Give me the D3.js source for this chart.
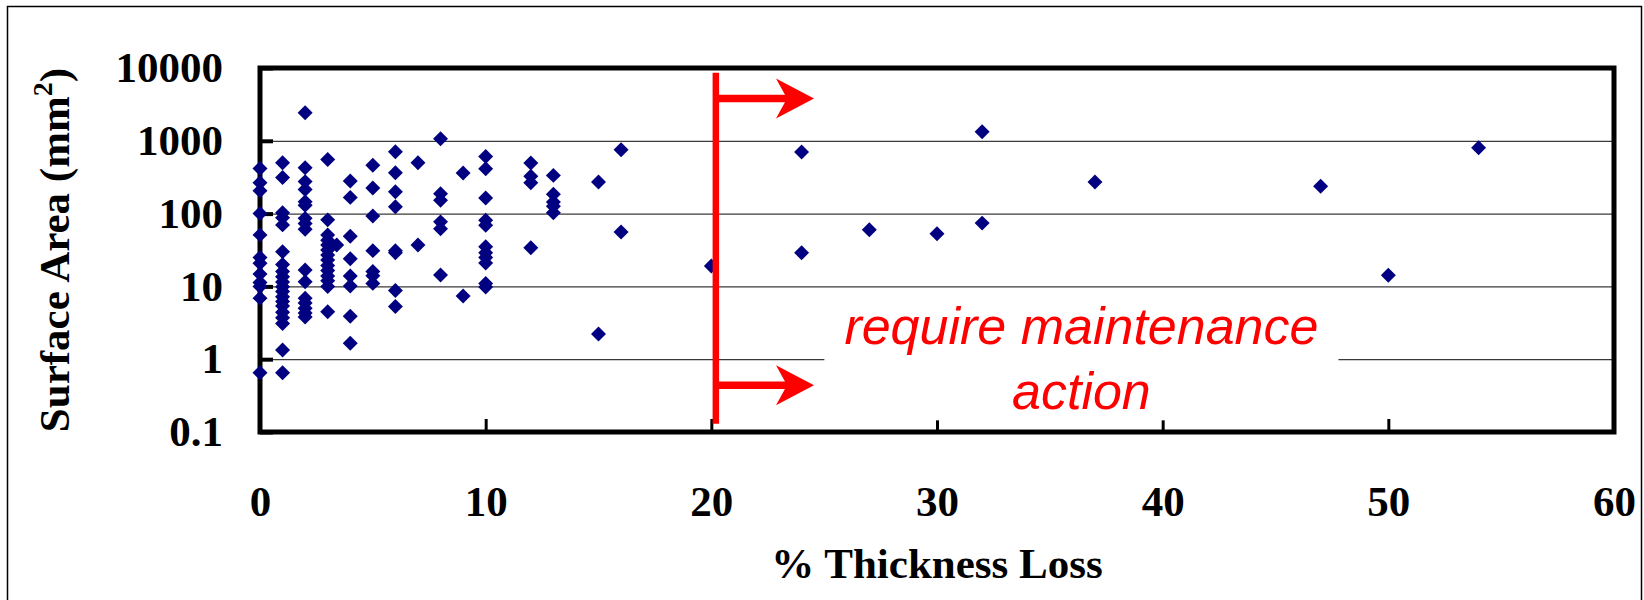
<!DOCTYPE html>
<html>
<head>
<meta charset="utf-8">
<script src="https://cdn.jsdelivr.net/npm/d3@7"></script>
<style>
  body { margin: 0; background: #fff; }
  svg { display: block; }
</style>
</head>
<body>
<svg id="chart" width="1644" height="600"></svg>
<script>
// % thickness loss of each defect
var lossPct = [
    0, 0, 0, 0, 0, 0, 0, 0, 0, 0, 0, 0,
    1, 1, 1, 1, 1, 1, 1, 1, 1, 1, 1, 1, 1, 1, 1, 1, 1, 1, 1, 1,
    2, 2, 2, 2, 2, 2, 2, 2, 2, 2, 2, 2, 2, 2, 2, 2,
    3, 3, 3, 3, 3, 3, 3, 3, 3, 3, 3, 3, 3, 3, 3.4,
    4, 4, 4, 4, 4, 4, 4, 4,
    5, 5, 5, 5, 5, 5, 5,
    6, 6, 6, 6, 6, 6, 6, 6,
    7, 7,
    8, 8, 8, 8, 8, 8,
    9, 9,
    10, 10, 10, 10, 10, 10, 10, 10, 10, 10, 10,
    12, 12, 12, 12,
    13, 13, 13, 13, 13,
    15, 15,
    16, 16,
    20, 24, 24, 27, 30, 32, 32, 37, 47, 50, 54
];
// surface area of each defect (mm2)
var areaMm2 = [
    417, 265, 206, 100, 51, 25, 20.8, 14.8, 11.3, 10, 6.9, 0.65,
    500, 314, 103, 88, 70, 30, 20, 16, 13.6, 11.5, 9.9, 8.5, 7.2, 6.2, 5.4, 4.4, 3.7, 3.1, 1.34, 0.65,
    2420, 426, 275, 215, 146, 130, 86, 73, 61, 16.8, 11.6, 6.9, 5.9, 5.0, 4.3, 3.8,
    555, 82, 51, 43, 37, 31.6, 27, 23, 19.3, 16.5, 13.9, 12, 10, 4.5, 37,
    280, 167, 49, 24, 13.9, 10.1, 3.9, 1.66,
    460, 225, 93, 31, 16, 14, 11,
    706, 364, 200, 124, 31, 29, 8.8, 5.3,
    500, 37,
    1065, 188, 152, 77, 62, 14.3,
    360, 7.4,
    610, 413, 164, 81, 69, 35, 29, 25, 21, 11, 9.8,
    494, 325, 266, 34,
    335, 184, 144, 126, 103,
    272, 2.22,
    753, 56,
    19, 700, 29, 60, 53, 1327, 74, 272, 237, 14.2, 802
];

var xTicks = [0, 10, 20, 30, 40, 50, 60];
var yTicks = [0.1, 1, 10, 100, 1000, 10000];
var yGrid = [1, 10, 100, 1000];
var xTitle = "% Thickness Loss";
var yTitle = "Surface Area (mm";
var noteLines = ["require maintenance", "action"];

// threshold line and arrows (data units)
var limitPct = 20.2;
var limitTop = 8600, limitBottom = 0.13;
var arrowTipPct = 24.55;
var arrowAreas = [3800, 0.44];

var svg = d3.select('#chart');
var margin = {top: 68, left: 260},
    width = 1354,
    height = 364;

// outer frame of the figure
svg.append("rect")
    .attr("x", 7.5).attr("y", 6.5)
    .attr("width", 1634).attr("height", 640)
    .attr("fill", "none").attr("stroke", "#000").attr("stroke-width", 1.5);

var g = svg.append("g").attr("transform", "translate(" + margin.left + "," + margin.top + ")");

var x = d3.scaleLinear().domain([0, 60]).range([0, width]);
var y = d3.scaleLog().domain([0.1, 10000]).range([height, 0]);

var serif = "'Liberation Serif', 'Times New Roman', serif";

//Grid lines
g.append("g")
    .call(d3.axisLeft(y).tickValues(yGrid).tickSize(-width).tickFormat(""))
    .call(function (s) { s.select(".domain").remove(); })
    .selectAll("line")
    .attr("stroke", "#3a3a3a")
    .attr("stroke-width", 1.2);

//Y Axis
var yAxis = g.append("g")
    .call(d3.axisLeft(y).tickValues(yTicks).tickFormat(function (d) { return String(d); })
        .tickSize(-13).tickSizeOuter(0).tickPadding(37));
yAxis.select(".domain").remove();
yAxis.selectAll("line").attr("stroke", "#000").attr("stroke-width", 4);
yAxis.selectAll("text")
    .attr("font-family", serif).attr("font-weight", "bold").attr("font-size", 43)
    .attr("fill", "#000").attr("dy", "0.32em");

//X Axis
var xAxis = g.append("g")
    .attr("transform", "translate(0," + height + ")")
    .call(d3.axisBottom(x).tickValues(xTicks).tickFormat(d3.format("d"))
        .tickSize(-13).tickSizeOuter(0).tickPadding(53));
xAxis.select(".domain").remove();
xAxis.selectAll("line").attr("stroke", "#000").attr("stroke-width", 3);
xAxis.selectAll("text")
    .attr("font-family", serif).attr("font-weight", "bold").attr("font-size", 43)
    .attr("fill", "#000");

//Plot frame
g.append("rect")
    .attr("width", width).attr("height", height)
    .attr("fill", "none").attr("stroke", "#000").attr("stroke-width", 5);

//Points
var diamond = d3.symbol().type(d3.symbolSquare).size(112);
g.append("g")
    .selectAll("path")
    .data(d3.range(lossPct.length))
    .enter().append("path")
    .attr("d", diamond)
    .attr("transform", function (i) {
        return "translate(" + x(lossPct[i]) + "," + y(areaMm2[i]) + ") rotate(45)";
    })
    .attr("fill", "#000080");

//Annotation text on white background
var note = g.append("g");
var noteBg = note.append("rect").attr("fill", "#fff");
var noteText = note.append("text")
    .attr("font-family", "'Liberation Sans', Arial, sans-serif")
    .attr("font-style", "italic")
    .attr("font-size", 52)
    .attr("fill", "#ff0000")
    .attr("text-anchor", "middle");
noteText.selectAll("tspan")
    .data(noteLines)
    .enter().append("tspan")
    .attr("x", x(36.4))
    .attr("y", function (d, i) { return y(1.6) + i * 65; })
    .text(function (d) { return d; });
var bb = noteText.node().getBBox();
noteBg.attr("x", bb.x - 20).attr("y", bb.y - 4)
    .attr("width", bb.width + 40).attr("height", bb.height + 4);

//Threshold line and arrows
var red = g.append("g").attr("fill", "#ff0000").attr("stroke", "#ff0000");
red.append("line")
    .attr("x1", x(limitPct)).attr("x2", x(limitPct))
    .attr("y1", y(limitTop)).attr("y2", y(limitBottom))
    .attr("stroke-width", 6.5);
arrowAreas.forEach(function (a) {
    var ay = y(a), tip = x(arrowTipPct);
    red.append("line")
        .attr("x1", x(limitPct)).attr("x2", tip - 20)
        .attr("y1", ay).attr("y2", ay)
        .attr("stroke-width", 7.5);
    red.append("path")
        .attr("stroke", "none")
        .attr("d", "M" + tip + "," + ay +
            "L" + (tip - 38) + "," + (ay - 20) +
            "L" + (tip - 27) + "," + ay +
            "L" + (tip - 38) + "," + (ay + 20) + "Z");
});

//Axis titles
svg.append("text")
    .attr("x", margin.left + width / 2).attr("y", 578)
    .attr("text-anchor", "middle")
    .attr("font-family", serif).attr("font-weight", "bold").attr("font-size", 43)
    .text(xTitle);

var yt = svg.append("text")
    .attr("transform", "translate(69," + (margin.top + height / 2) + ") rotate(-90)")
    .attr("text-anchor", "middle")
    .attr("font-family", serif).attr("font-weight", "bold").attr("font-size", 43);
yt.append("tspan").text(yTitle);
yt.append("tspan").attr("font-size", 28).attr("dy", -17).text("2");
yt.append("tspan").attr("dy", 17).text(")");
</script>
</body>
</html>
